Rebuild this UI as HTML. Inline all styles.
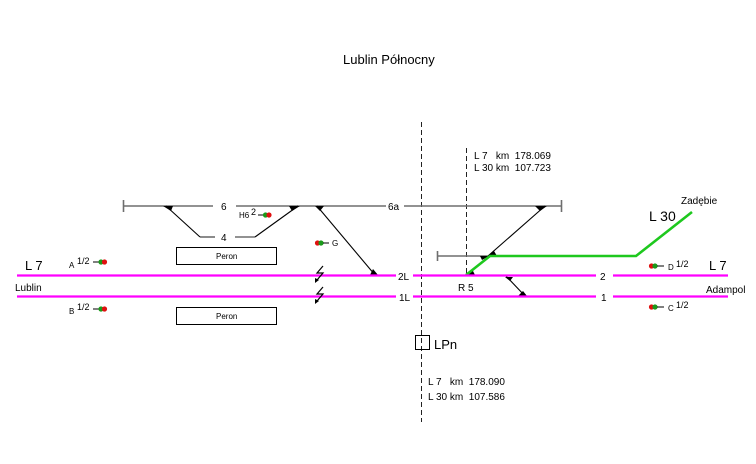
<!DOCTYPE html>
<html>
<head>
<meta charset="utf-8">
<style>
  html,body{margin:0;padding:0;background:#fff;}
  svg{display:block;}
  text{font-family:"Liberation Sans",Arial,sans-serif;fill:#000;}
</style>
</head>
<body>
<svg width="756" height="464" viewBox="0 0 756 464" xmlns="http://www.w3.org/2000/svg">
  <rect width="756" height="464" fill="#fff"/>

  <!-- Title -->
  <text x="343" y="64" font-size="13">Lublin Północny</text>

  <!-- dashed vertical lines -->
  <line x1="421.5" y1="122" x2="421.5" y2="422" stroke="#222" stroke-width="1" stroke-dasharray="5,3"/>
  <line x1="466.5" y1="148" x2="466.5" y2="274" stroke="#222" stroke-width="1" stroke-dasharray="5,3"/>

  <!-- km texts -->
  <text x="474" y="159" font-size="10">L 7 &#160; km &#160;178.069</text>
  <text x="474" y="171" font-size="10">L 30 km &#160;107.723</text>
  <text x="428" y="385" font-size="10">L 7 &#160; km &#160;178.090</text>
  <text x="428" y="400" font-size="10">L 30 km &#160;107.586</text>

  <!-- LPn box -->
  <rect x="415.5" y="335.5" width="14" height="14" fill="none" stroke="#000" stroke-width="1"/>
  <text x="434" y="349" font-size="13">LPn</text>

  <!-- Track 6 (gray) -->
  <g stroke="#6e6e6e" stroke-width="1.6" fill="none">
    <line x1="123" y1="206" x2="213" y2="206"/>
    <line x1="236" y1="206" x2="386" y2="206"/>
    <line x1="404" y1="206" x2="562" y2="206"/>
    <line x1="123.5" y1="200" x2="123.5" y2="212"/>
    <line x1="561.5" y1="200" x2="561.5" y2="212"/>
    <line x1="200" y1="237" x2="215" y2="237"/>
    <line x1="235" y1="237" x2="255" y2="237"/>
    <line x1="437" y1="256" x2="492" y2="256"/>
    <line x1="437.5" y1="251" x2="437.5" y2="261"/>
  </g>
  <text x="221" y="210" font-size="10">6</text>
  <text x="221" y="241" font-size="10">4</text>
  <text x="388" y="210" font-size="10">6a</text>

  <!-- black diagonals -->
  <g stroke="#000" stroke-width="1.1" fill="none">
    <line x1="166" y1="206" x2="200" y2="237"/>
    <line x1="255" y1="237" x2="298" y2="206"/>
    <line x1="317" y1="206" x2="375" y2="275"/>
    <line x1="545" y1="206" x2="488" y2="256"/>
    <line x1="506" y1="276" x2="525" y2="296"/>
  </g>

  <!-- switch wedges -->
  <g fill="#000">
    <polygon points="163,206 173,206 171,211"/>
    <polygon points="289,206 300,206 292,211"/>
    <polygon points="315,206 324,206 320,211"/>
    <polygon points="370,275 378,275 373,269"/>
    <polygon points="535,206 547,206 540,211"/>
    <polygon points="480,256 489,256 482,260"/>
    <polygon points="488,256 497,256 494,251"/>
    <polygon points="466,275 475,275 472,269"/>
    <polygon points="505,277 513,277 510,281"/>
    <polygon points="518,296 527,296 523,291"/>
  </g>

  <!-- green L30 -->
  <polyline points="466,275 490,256 636,256 692,212" fill="none" stroke="#1ec81e" stroke-width="2.6"/>

  <!-- magenta main tracks -->
  <g stroke="#ff00ff" stroke-width="2.2">
    <line x1="17" y1="275.5" x2="396" y2="275.5"/>
    <line x1="413" y1="275.5" x2="596" y2="275.5"/>
    <line x1="613" y1="275.5" x2="728" y2="275.5"/>
    <line x1="17" y1="296.5" x2="396" y2="296.5"/>
    <line x1="413" y1="296.5" x2="596" y2="296.5"/>
    <line x1="613" y1="296.5" x2="728" y2="296.5"/>
  </g>
  <text x="398" y="280" font-size="10">2L</text>
  <text x="399" y="301" font-size="10">1L</text>
  <text x="600" y="280" font-size="10">2</text>
  <text x="601" y="301" font-size="10">1</text>
  <text x="458" y="291" font-size="10">R 5</text>

  <!-- lightning symbols -->
  <g stroke="#000" stroke-width="1.2" fill="none" stroke-linejoin="miter">
    <polyline points="323,266 317,273 323,273 317,280"/>
    <polyline points="323,287 317,294 323,294 317,301"/>
  </g>
  <g fill="#000">
    <polygon points="315,283 315,278 319,280"/>
    <polygon points="315,304 315,299 319,301"/>
  </g>

  <!-- Perons -->
  <rect x="176.5" y="247.5" width="100" height="17" fill="#fff" stroke="#000" stroke-width="1"/>
  <text x="216" y="259" font-size="8">Peron</text>
  <rect x="176.5" y="307.5" width="100" height="17" fill="#fff" stroke="#000" stroke-width="1"/>
  <text x="216" y="319" font-size="8">Peron</text>

  <!-- Left labels -->
  <text x="25" y="270" font-size="13">L 7</text>
  <text x="15" y="291" font-size="10">Lublin</text>

  <!-- Right labels -->
  <text x="709" y="270" font-size="13">L 7</text>
  <text x="706" y="293" font-size="10">Adampol</text>
  <text x="681" y="204" font-size="10">Zadębie</text>
  <text x="649" y="221" font-size="14">L 30</text>

  <!-- Signals -->
  <text x="69" y="268" font-size="8">A</text>
  <text x="77" y="264" font-size="9">1/2</text>
  <line x1="93" y1="262" x2="99" y2="262" stroke="#000" stroke-width="1"/>
  <circle cx="101" cy="262" r="2.6" fill="#1a9a1a"/>
  <circle cx="104.5" cy="262" r="2.6" fill="#e01010"/>

  <text x="69" y="314" font-size="8">B</text>
  <text x="77" y="310" font-size="9">1/2</text>
  <line x1="93" y1="309" x2="99" y2="309" stroke="#000" stroke-width="1"/>
  <circle cx="101" cy="309" r="2.6" fill="#1a9a1a"/>
  <circle cx="104.5" cy="309" r="2.6" fill="#e01010"/>

  <text x="239" y="218" font-size="8">H6</text>
  <text x="251" y="215" font-size="9">2</text>
  <line x1="258" y1="215" x2="264" y2="215" stroke="#000" stroke-width="1"/>
  <circle cx="265.5" cy="215" r="2.6" fill="#1a9a1a"/>
  <circle cx="269" cy="215" r="2.6" fill="#e01010"/>

  <circle cx="317.5" cy="243" r="2.6" fill="#e01010"/>
  <circle cx="321" cy="243" r="2.6" fill="#1a9a1a"/>
  <line x1="323" y1="243" x2="329" y2="243" stroke="#000" stroke-width="1"/>
  <text x="332" y="246" font-size="8">G</text>

  <circle cx="651.5" cy="266" r="2.6" fill="#e01010"/>
  <circle cx="655" cy="266" r="2.6" fill="#1a9a1a"/>
  <line x1="657" y1="266" x2="664" y2="266" stroke="#000" stroke-width="1"/>
  <text x="668" y="270" font-size="8">D</text>
  <text x="676" y="267" font-size="9">1/2</text>

  <circle cx="651.5" cy="307" r="2.6" fill="#e01010"/>
  <circle cx="655" cy="307" r="2.6" fill="#1a9a1a"/>
  <line x1="657" y1="307" x2="664" y2="307" stroke="#000" stroke-width="1"/>
  <text x="668" y="311" font-size="8">C</text>
  <text x="676" y="308" font-size="9">1/2</text>
</svg>
</body>
</html>
